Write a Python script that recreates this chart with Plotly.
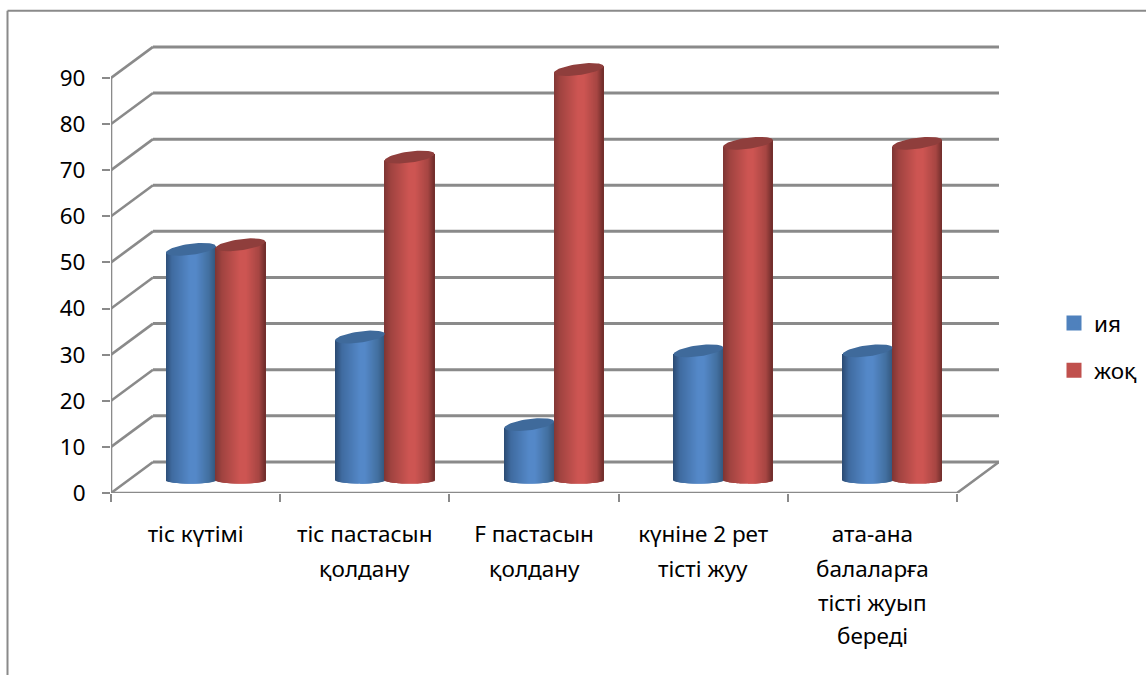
import numpy as np
import plotly.graph_objects as go

# Survey results per question
category_lines = [
    ["тіс күтімі"],
    ["тіс пастасын", "қолдану"],
    ["F пастасын", "қолдану"],
    ["күніне 2 рет", "тісті жуу"],
    ["ата-ана", "балаларға", "тісті жуып", "береді"],
]
series_names = ["ия", "жоқ"]
values_ia = [50, 31, 12, 28, 28]
values_zhoq = [51, 70, 89, 73, 73]
y_ticks = list(range(0, 100, 10))

# Canvas geometry in pixels
WIDTH, HEIGHT = 1146, 675
PX_LEFT, PX_RIGHT = 111, 999
PX_ZERO = 493
PX_PER_UNIT = 4.61
PX_PER_CAT = 169.2
Y_MAX = 98
DEPTH_X = 42 / PX_PER_CAT
DEPTH_Y = 31 / PX_PER_UNIT
X_MIN = -0.5
X_MAX = X_MIN + (PX_RIGHT - PX_LEFT) / PX_PER_CAT
X_FRONT_END = 4.5

GRID = "#8a8a8a"
FONT = "Noto Sans"
FONT_SIZE = 22.5

# Cylinder geometry, in axis units
HALF_W = 24.8 / PX_PER_CAT
GROUP_SHIFT = 20 / PX_PER_CAT
BASE_Y = DEPTH_Y / 2 - 2.5 / PX_PER_UNIT
BOTTOM_B = 3.6 / PX_PER_UNIT
CAP_B = 5.6 / PX_PER_UNIT
CAP_TILT = 3.2 / PX_PER_UNIT
N_STRIPS = 50

STYLES = [
    dict(legend="#4f81bd", cap="#3f6a9b",
         ramp=[(0, "#2b4a72"), (.14, "#3f6ba0"), (.5, "#5488c8"), (.62, "#5488c8"), (.88, "#426f9f"), (1, "#34587f")]),
    dict(legend="#c0504d", cap="#8f3e3c",
         ramp=[(0, "#7d3533"), (.14, "#a04340"), (.5, "#cd5552"), (.62, "#cd5552"), (.88, "#a64542"), (1, "#6f2d2b")]),
]


def hex_rgb(h):
    return np.array([int(h[i:i + 2], 16) for i in (1, 3, 5)], dtype=float)


def ramp_color(ramp, t):
    stops = [s[0] for s in ramp]
    rgb = np.array([hex_rgb(s[1]) for s in ramp])
    r, g, b = (np.interp(t, stops, rgb[:, k]) for k in range(3))
    return f"rgb({r:.0f},{g:.0f},{b:.0f})"


fig = go.Figure()

# Back wall horizontals sit behind the cylinders
shapes = [
    dict(type="line", layer="below", xref="x", yref="y",
         x0=X_MIN + DEPTH_X, x1=X_MAX, y0=v + DEPTH_Y, y1=v + DEPTH_Y,
         line=dict(color=GRID, width=3))
    for v in y_ticks
]

# Outer chart frame running off the right and bottom edges
frame_x = (7.5 - PX_LEFT) / (PX_RIGHT - PX_LEFT)
frame_top = 1 + (PX_ZERO - Y_MAX * PX_PER_UNIT - 11) / (Y_MAX * PX_PER_UNIT)
frame_far = (WIDTH - PX_LEFT) / (PX_RIGHT - PX_LEFT)
frame_low = -(HEIGHT - PX_ZERO) / (Y_MAX * PX_PER_UNIT)
shapes += [
    dict(type="line", xref="paper", yref="paper", x0=frame_x, x1=frame_x, y0=frame_low, y1=frame_top,
         line=dict(color=GRID, width=2)),
    dict(type="line", xref="paper", yref="paper", x0=frame_x, x1=frame_far, y0=frame_top, y1=frame_top,
         line=dict(color=GRID, width=2)),
]

# Side wall diagonals, floor edges and the front axis lines
sx, sy = [], []
for v in y_ticks:
    sx += [X_MIN, X_MIN + DEPTH_X, None]
    sy += [v, v + DEPTH_Y, None]
sx += [X_MIN, X_MIN, None, X_MIN, X_FRONT_END, X_FRONT_END + DEPTH_X]
sy += [y_ticks[0], y_ticks[-1], None, 0, 0, DEPTH_Y]
fig.add_trace(go.Scatter(x=sx, y=sy, mode="lines", line=dict(color=GRID, width=2.6),
                         cliponaxis=False, showlegend=False, hoverinfo="skip"))

step = 2 / N_STRIPS
lefts = np.linspace(-1, 1 - step, N_STRIPS)
angles = np.linspace(0, 2 * np.pi, 61)

for s, (name, values, style) in enumerate(zip(series_names, [values_ia, values_zhoq], STYLES)):
    side = -1 if s == 0 else 1
    centers = [i + GROUP_SHIFT + side * HALF_W for i in range(len(values))]

    # Core bar carries the value and the legend entry
    fig.add_trace(go.Bar(
        x=centers, y=values, base=BASE_Y, width=HALF_W, name=name,
        legendgroup=name, marker=dict(color=style["legend"], line=dict(color=style["legend"], width=3)),
        hoverinfo="skip",
    ))

    # Vertical strips give the rounded shading of the cylinder wall;
    # each one overlaps its right neighbour so no seams show
    xs, widths, bases, heights, colors = [], [], [], [], []
    for c, v in zip(centers, values):
        for j, left in enumerate(lefts):
            u = left + step / 2
            span = step if j == N_STRIPS - 1 else 2 * step
            bottom = BASE_Y - BOTTOM_B * np.sqrt(max(0, 1 - u * u))
            top = BASE_Y + v + CAP_TILT * u
            xs.append(c + (left + span / 2) * HALF_W)
            widths.append(span * HALF_W)
            bases.append(bottom)
            heights.append(top - bottom)
            colors.append(ramp_color(style["ramp"], (u + 1) / 2))
    fig.add_trace(go.Bar(
        x=xs, y=heights, base=bases, width=widths,
        marker=dict(color=colors, line=dict(width=0)),
        showlegend=False, hoverinfo="skip",
    ))

    # Tilted elliptical caps
    cx, cy = [], []
    for c, v in zip(centers, values):
        cx += list(c + HALF_W * np.cos(angles)) + [None]
        cy += list(BASE_Y + v + CAP_TILT * np.cos(angles) + CAP_B * np.sin(angles)) + [None]
    fig.add_trace(go.Scatter(
        x=cx, y=cy, mode="lines", fill="toself", fillcolor=style["cap"],
        line=dict(width=0, color=style["cap"]), showlegend=False, hoverinfo="skip",
    ))

# Continuation lines of the wrapped category labels
LINE_STEP = 33.6
annotations = []
for i, lines in enumerate(category_lines):
    for k, text in enumerate(lines[1:], start=1):
        annotations.append(dict(
            x=i, y=0, xref="x", yref="y", text=text, showarrow=False,
            xanchor="center", yanchor="middle", yshift=-(42 + k * LINE_STEP),
            font=dict(family=FONT, size=FONT_SIZE, color="black"),
        ))

fig.update_layout(
    width=WIDTH, height=HEIGHT,
    margin=dict(l=PX_LEFT, r=WIDTH - PX_RIGHT, t=PX_ZERO - Y_MAX * PX_PER_UNIT, b=HEIGHT - PX_ZERO,
                pad=0, autoexpand=False),
    paper_bgcolor="white", plot_bgcolor="white",
    barmode="overlay",
    font=dict(family=FONT, size=FONT_SIZE, color="black"),
    shapes=shapes, annotations=annotations,
    xaxis=dict(
        range=[X_MIN, X_MAX], showgrid=False, zeroline=False, showline=False,
        tickmode="array", tickvals=list(range(len(category_lines))),
        ticktext=[lines[0] for lines in category_lines],
        ticks="", ticklabelstandoff=25,
        minor=dict(tickmode="linear", tick0=X_MIN, dtick=1, ticks="outside", ticklen=8,
                   tickwidth=2, tickcolor=GRID, showgrid=False),
    ),
    yaxis=dict(
        range=[0, Y_MAX], showgrid=False, zeroline=False, showline=False,
        tickmode="array", tickvals=y_ticks, ticks="outside", ticklen=8, tickwidth=2,
        tickcolor=GRID, ticklabelstandoff=12,
    ),
    legend=dict(
        x=(1054 - PX_LEFT) / (PX_RIGHT - PX_LEFT), xanchor="left",
        y=1 - (302 - (PX_ZERO - Y_MAX * PX_PER_UNIT)) / (Y_MAX * PX_PER_UNIT), yanchor="top",
        bgcolor="rgba(0,0,0,0)", tracegroupgap=15, traceorder="grouped",
        font=dict(family=FONT, size=FONT_SIZE),
    ),
)

fig.write_html("out.html")
